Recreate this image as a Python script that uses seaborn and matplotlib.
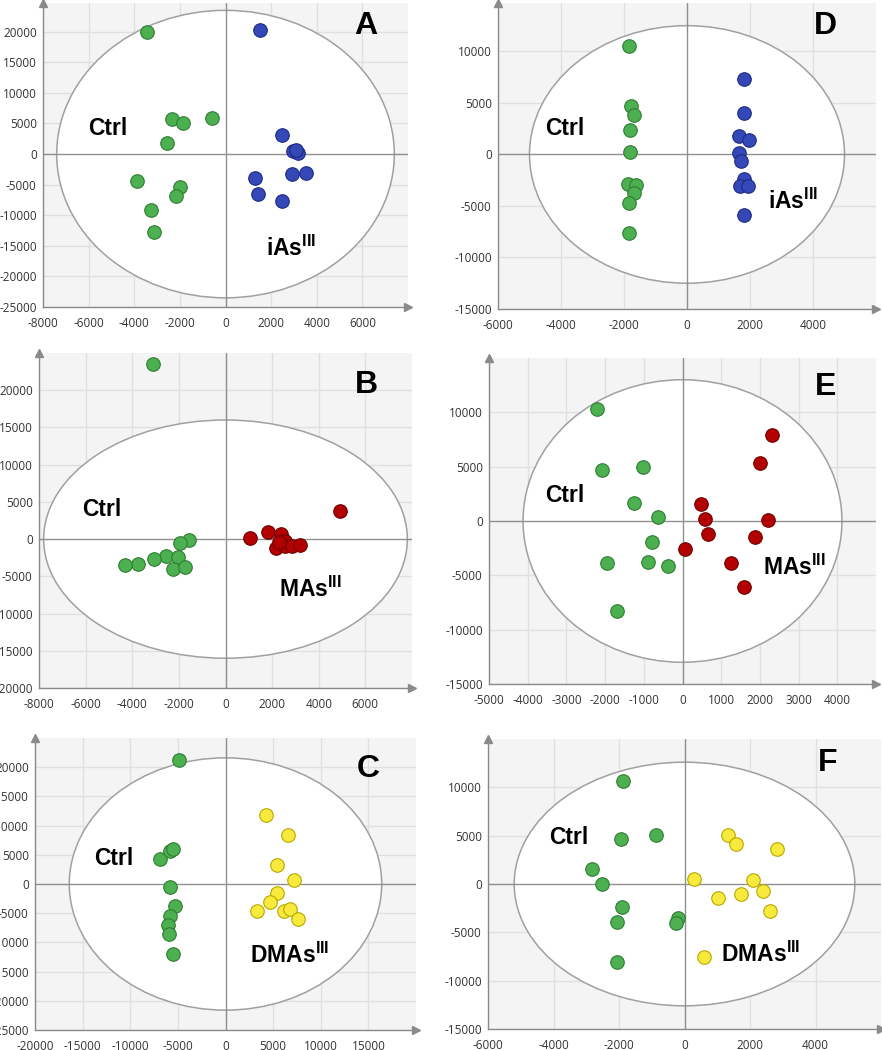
import matplotlib
matplotlib.use("Agg")
import matplotlib.pyplot as plt
import seaborn as sns
import numpy as np
import pandas as pd
from matplotlib.patches import Ellipse
from matplotlib.ticker import AutoMinorLocator

# score plots, t[1] vs t[2] per treatment

# A: Ctrl vs iAsIII (left column)
a_ctrl_x = [-3450, -2330, -1880, -610, -2550, -3860, -1980, -2170, -3280, -3150]
a_ctrl_y = [20000, 5780, 5020, 5940, 1850, -4470, -5340, -6930, -9160, -12700]
a_trt_x = [1500, 2460, 2940, 3160, 3100, 2900, 3520, 1310, 1440, 2460]
a_trt_y = [20340, 3110, 545, 160, 600, -3330, -3160, -3930, -6540, -7740]

# B: Ctrl vs MAsIII
b_ctrl_x = [-3090, -1575, -1947, -2548, -2033, -3049, -3751, -4309, -2262, -1732]
b_ctrl_y = [23480, -134, -580, -2230, -2410, -2680, -3350, -3480, -4060, -3800]
b_trt_x = [4910, 1059, 1804, 2362, 2534, 2176, 2534, 2850, 3180, 2300]
b_trt_y = [3790, 134, 890, 670, -220, -1160, -890, -980, -800, -400]

# C: Ctrl vs DMAsIII
c_ctrl_x = [-4920, -6840, -5860, -5480, -5860, -5340, -5790, -6040, -5930, -5480]
c_ctrl_y = [21220, 4360, 5680, 6020, -460, -3780, -5500, -6940, -8540, -11930]
c_trt_x = [4290, 6530, 5370, 7190, 5410, 4710, 3310, 6110, 6770, 7610]
c_trt_y = [11810, 8430, 3210, 690, -1490, -3040, -4650, -4650, -4360, -5910]

# D: Ctrl vs iAsIII (right column)
d_ctrl_x = [-1852, -1767, -1682, -1799, -1820, -1873, -1630, -1682, -1841, -1852]
d_ctrl_y = [10540, 4750, 3870, 2410, 260, -2860, -2960, -3740, -4680, -7580]
d_trt_x = [1799, 1799, 1640, 1958, 1640, 1725, 1799, 1672, 1926, 1799]
d_trt_y = [7290, 4070, 1790, 1370, 160, -590, -2370, -3060, -3060, -5860]

# E: Ctrl vs MAsIII
e_ctrl_x = [-2207, -2069, -1026, -1259, -621, -784, -1940, -888, -379, -1698]
e_ctrl_y = [10340, 4660, 4970, 1690, 400, -1900, -3830, -3740, -4140, -8250]
e_trt_x = [2310, 1991, 466, 569, 2207, 664, 1879, 60, 1250, 1595]
e_trt_y = [7940, 5370, 1600, 180, 90, -1170, -1500, -2550, -3830, -6040]

# F: Ctrl vs DMAsIII
f_ctrl_x = [-1878, -1939, -883, -2812, -2528, -1909, -2051, -193, -254, -2061]
f_ctrl_y = [10690, 4660, 5070, 1550, 0, -2340, -3900, -3480, -4070, -8030]
f_trt_x = [1340, 1574, 2812, 284, 2102, 2386, 1036, 1726, 2619, 609]
f_trt_y = [5070, 4100, 3590, 520, 410, -760, -1480, -1030, -2760, -7590]

green = "#4caf50"
green_edge = "#2e7d32"
colors = {"iAs": ("#3548b8", "#1c2a80"),
          "MAs": ("#b30000", "#6e0000"),
          "DMAs": ("#f7ea3c", "#b8a800")}

sns.set_style("white")
plt.rcParams["font.family"] = ["Open Sans", "DejaVu Sans"]
plt.rcParams["mathtext.fontset"] = "custom"
plt.rcParams["mathtext.bf"] = "Liberation Sans:bold"
plt.rcParams["mathtext.rm"] = "Liberation Sans"

fig = plt.figure(figsize=(8.82, 10.5), dpi=100)
W, H = 882, 1050


def add_ax(l, r, t, b):
    return fig.add_axes([l / W, 1 - b / H, (r - l) / W, (b - t) / H])


panels = [
    dict(name="A", box=(43, 408, 3, 307), grp="iAs",
         cx=a_ctrl_x, cy=a_ctrl_y, tx=a_trt_x, ty=a_trt_y,
         xlim=(-8000, 8000), ylim=(-25000, 24700), xt=(-8000, 6000, 2000), yt=(-25000, 20000, 5000),
         ell=(7400, 23500), ctrl=(-5140, 4250), lab=(1780, -16630), letter=(6150, 20880)),
    dict(name="D", box=(498, 876, 3, 309), grp="iAs",
         cx=d_ctrl_x, cy=d_ctrl_y, tx=d_trt_x, ty=d_trt_y,
         xlim=(-6000, 6000), ylim=(-15000, 14700), xt=(-6000, 4000, 2000), yt=(-15000, 10000, 5000),
         ell=(5000, 12500), ctrl=(-3894, 2500), lab=(2571, -5300), letter=(4390, 12430)),
    dict(name="B", box=(39, 412, 353, 688), grp="MAs",
         cx=b_ctrl_x, cy=b_ctrl_y, tx=b_trt_x, ty=b_trt_y,
         xlim=(-8000, 8000), ylim=(-20000, 25000), xt=(-8000, 6000, 2000), yt=(-20000, 20000, 5000),
         ell=(7800, 16000), ctrl=(-5300, 4020), lab=(2290, -7720), letter=(6040, 20760)),
    dict(name="E", box=(489, 876, 358, 684), grp="MAs",
         cx=e_ctrl_x, cy=e_ctrl_y, tx=e_trt_x, ty=e_trt_y,
         xlim=(-5000, 5000), ylim=(-15000, 15000), xt=(-5000, 4000, 1000), yt=(-15000, 10000, 5000),
         ell=(4120, 13000), ctrl=(-3034, 2330), lab=(2086, -4970), letter=(3690, 12360)),
    dict(name="C", box=(35, 416, 738, 1030), grp="DMAs",
         cx=c_ctrl_x, cy=c_ctrl_y, tx=c_trt_x, ty=c_trt_y,
         xlim=(-20000, 20000), ylim=(-25000, 25000), xt=(-20000, 15000, 5000), yt=(-25000, 20000, 5000),
         ell=(16400, 21600), ctrl=(-11760, 4410), lab=(2580, -13530), letter=(14970, 19720)),
    dict(name="F", box=(488, 881, 739, 1029), grp="DMAs",
         cx=f_ctrl_x, cy=f_ctrl_y, tx=f_trt_x, ty=f_trt_y,
         xlim=(-6000, 6000), ylim=(-15000, 15000), xt=(-6000, 4000, 2000), yt=(-15000, 10000, 5000),
         ell=(5200, 12600), ctrl=(-3523, 4790), lab=(1117, -8030), letter=(4365, 12480)),
]

axis_grey = "#8a8a8a"

for p in panels:
    ax = add_ax(*p["box"])
    ax.set_facecolor("#f4f4f4")
    ax.set_xlim(*p["xlim"])
    ax.set_ylim(*p["ylim"])

    # Hotelling ellipse, white inside
    ax.add_patch(Ellipse((0, 0), 2 * p["ell"][0], 2 * p["ell"][1], facecolor="white",
                         edgecolor="#a0a0a0", lw=1.1, zorder=1))

    xt = np.arange(p["xt"][0], p["xt"][1] + 1, p["xt"][2])
    yt = np.arange(p["yt"][0], p["yt"][1] + 1, p["yt"][2])
    ax.set_xticks(xt)
    ax.set_yticks(yt)
    ax.set_xticklabels([str(int(v)) for v in xt])
    ax.set_yticklabels([str(int(v)) for v in yt])
    ax.xaxis.set_minor_locator(AutoMinorLocator(4))
    ax.yaxis.set_minor_locator(AutoMinorLocator(5))
    ax.grid(True, which="major", color="#e0e0e0", lw=1, zorder=1.5)
    ax.tick_params(which="both", direction="in", colors=axis_grey, labelcolor="#333333",
                   labelsize=8.5, width=0.8)
    ax.tick_params(which="major", length=4)
    ax.tick_params(which="minor", length=2.5)
    ax.tick_params(axis="x", which="major", pad=7)
    ax.tick_params(axis="y", which="major", pad=4.5)
    for s in ["top", "right"]:
        ax.spines[s].set_visible(False)
    for s in ["left", "bottom"]:
        ax.spines[s].set_color(axis_grey)
        ax.spines[s].set_linewidth(1)

    ax.axhline(0, color="#909090", lw=1, zorder=2)
    ax.axvline(0, color="#909090", lw=1, zorder=2)

    # arrow heads at the ends of the axes
    ax.plot([0], [1], marker="^", color=axis_grey, ms=6, transform=ax.transAxes, clip_on=False)
    ax.plot([1], [0], marker=">", color=axis_grey, ms=6, transform=ax.transAxes, clip_on=False)

    fc, ec = colors[p["grp"]]
    df = pd.DataFrame({
        "t1": list(p["cx"]) + list(p["tx"]),
        "t2": list(p["cy"]) + list(p["ty"]),
        "group": ["Ctrl"] * len(p["cx"]) + [p["grp"]] * len(p["tx"]),
    })
    for g, f, e in [("Ctrl", green, green_edge), (p["grp"], fc, ec)]:
        sns.scatterplot(data=df[df["group"] == g], x="t1", y="t2", ax=ax, s=95,
                        color=f, edgecolor=e, linewidth=0.8, zorder=3, legend=False)
    ax.set_xlabel("")
    ax.set_ylabel("")

    ax.text(*p["ctrl"], "Ctrl", family="Liberation Sans", fontweight="bold", fontsize=16.5,
            color="black", ha="center", va="center", zorder=4)
    ax.text(*p["lab"], p["grp"] + r"$^{\mathbf{III}}$", family="Liberation Sans",
            fontweight="bold", fontsize=16.5, color="black", ha="left", va="baseline", zorder=4)
    ax.text(*p["letter"], p["name"], family="Liberation Sans", fontweight="bold", fontsize=23,
            color="black", ha="center", va="center", zorder=4)

fig.savefig("out.png", dpi=100)
